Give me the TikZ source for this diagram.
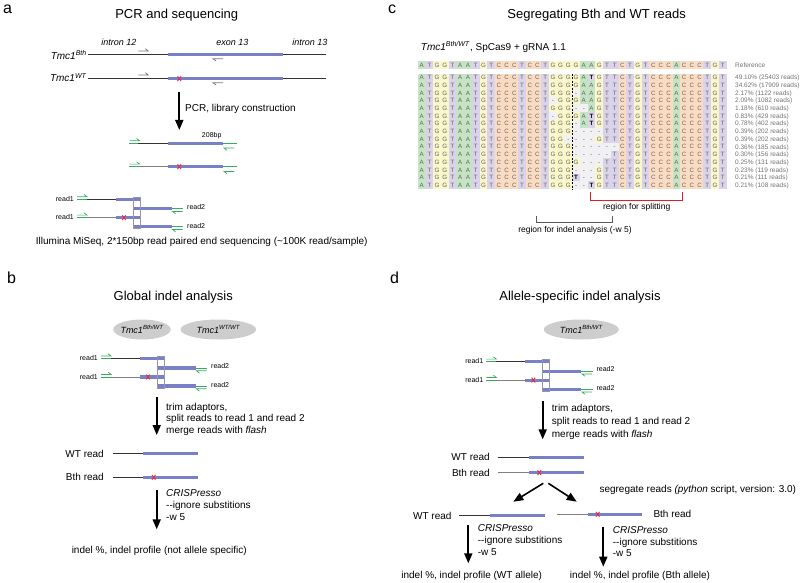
\documentclass[tikz,border=0pt]{standalone}
\usepackage{fontspec}
\setmainfont{Liberation Sans}
\usetikzlibrary{arrows.meta,shapes.geometric}
\definecolor{bluebar}{RGB}{122,128,200}
\definecolor{grn}{RGB}{55,170,100}
\definecolor{redx}{RGB}{235,40,55}
\definecolor{ellgray}{RGB}{205,205,205}
\definecolor{primgray}{RGB}{120,120,120}
\definecolor{nA}{RGB}{196,228,196}
\definecolor{nT}{RGB}{218,211,234}
\definecolor{nG}{RGB}{250,247,202}
\definecolor{nC}{RGB}{251,220,195}
\definecolor{nD}{RGB}{241,241,243}
\definecolor{alntext}{RGB}{100,100,100}
\definecolor{bracketred}{RGB}{225,30,40}
\definecolor{bracketgray}{RGB}{90,90,90}
\definecolor{boxgray}{RGB}{150,150,165}

\tikzset{
  txt/.style={inner sep=0pt, font=\fontsize{10}{12}\selectfont},
  smalltxt/.style={inner sep=0pt, font=\fontsize{7}{8}\selectfont},
  midtxt/.style={inner sep=0pt, font=\fontsize{8.5}{10}\selectfont},
  ttl/.style={inner sep=0pt, font=\fontsize{13}{15}\selectfont},
  plet/.style={inner sep=0pt, font=\fontsize{16}{18}\selectfont},
  gen/.style={inner sep=0pt, font=\fontsize{9}{11}\selectfont\itshape},
  kline/.style={draw=black!80, line width=0.8pt},
  gline/.style={draw=black!50, line width=0.8pt},
  bbar/.style={draw=bluebar, line width=3.2pt},
  gadp/.style={draw=grn, line width=0.9pt},
  bigarrow/.style={draw=black, line width=1.8pt, -{Triangle[length=10pt,width=8pt]}},
  ellip/.style={ellipse, fill=ellgray, minimum height=20pt, inner sep=0pt},
  alnletter/.style={inner sep=0pt, anchor=base, text=alntext, font=\fontsize{6.2}{6.2}\selectfont},
  pctlab/.style={inner sep=0pt, anchor=base west, text=black!55, font=\fontsize{6.5}{7}\selectfont},
  fwdh/.pic={\draw[line width=0.7pt, #1] (-5,0) -- (5,0) -- (2,-2.3);},
  revh/.pic={\draw[line width=0.7pt, #1] (5,0) -- (-5,0) -- (-2,2.3);},
  redcross/.pic={\draw[draw=redx, line width=0.9pt] (-1.8,-2.4) -- (1.8,2.4) (-1.8,2.4) -- (1.8,-2.4);},
}

\newcommand\tmc[1]{\textit{Tmc1}\textsuperscript{\textit{#1}}}

% alignment machinery
\newcount\alncol
\def\alnxo{421.7}\def\alndx{7.718}\def\alndy{7.7}
\long\def\alngobble#1{}
\long\def\alnfirst#1{#1}
\def\alnrow#1#2{\def\alny{#1}\global\alncol=0\relax\alnparse#2\relax}
\def\alnparse#1{\ifx#1\relax\expandafter\alngobble\else\expandafter\alnfirst\fi{\alncell#1\alnparse}}
\def\alncell#1{%
  \global\advance\alncol by 1\relax
  \def\cellfill{nC}\def\celltxt{#1}\def\cellfont{}%
  \if#1A\def\cellfill{nA}\fi
  \if#1T\def\cellfill{nT}\fi
  \if#1G\def\cellfill{nG}\fi
  \if#1-\def\cellfill{nD}\fi
  \if#1t\def\cellfill{nT}\def\celltxt{T}\def\cellfont{\bfseries\color{black}}\fi
  \pgfmathsetmacro\cellx{\alnxo+(\the\alncol-1)*\alndx}%
  \fill[\cellfill] (\cellx-\alndx/2,\alny-\alndy/2) rectangle ++(\alndx,\alndy);
  \node[alnletter] at (\cellx,\alny+2.2) {\cellfont\celltxt};%
}

% paired reads block
\newcommand\drawpairs[3]{%
\begin{scope}[shift={(#2,#3)}]
  \node[smalltxt, anchor=base east] (#1r1a) at (74,201.3) {read1};
  \draw[gadp] (77,199.3) -- (87,199.3);
  \pic at (82,196.7) {fwdh=grn};
  \draw[kline] (87,199.3) -- (116,199.3);
  \draw[bbar] (116,199.3) -- (140,199.3);
  \draw[bbar] (133.3,208.7) -- (171.7,208.7);
  \draw[gadp] (171.7,208.7) -- (183.3,208.7);
  \pic at (177.5,211.5) {revh=grn};
  \node[smalltxt, anchor=base west] (#1r2a) at (187,209.2) {read2};
  \node[smalltxt, anchor=base east] (#1r1b) at (74,219.7) {read1};
  \draw[gadp] (77,217.7) -- (87,217.7);
  \pic at (82,215.1) {fwdh=grn};
  \draw[gline] (87,217.7) -- (116,217.7);
  \draw[bbar] (116,217.7) -- (140,217.7);
  \pic at (124,217.7) {redcross};
  \draw[bbar] (133.3,226.7) -- (171.7,226.7);
  \draw[gadp] (171.7,226.7) -- (183.3,226.7);
  \pic at (177.5,229.5) {revh=grn};
  \node[smalltxt, anchor=base west] (#1r2b) at (187,228.2) {read2};
  \draw[boxgray, line width=0.6pt] (133.3,197.3) rectangle (140,228.5);
\end{scope}}

\begin{document}
\begin{tikzpicture}[x=1pt,y=-1pt]
\useasboundingbox (0,0) rectangle (800,583);

% ---------------- panel letters
\node[plet, anchor=base west] (la) at (3,13.3) {a};
\node[plet, anchor=base west] (lc) at (388,13.3) {c};
\node[plet, anchor=base west] (lb) at (7,283.5) {b};
\node[plet, anchor=base west] (ld) at (390,283.5) {d};

% ---------------- panel a
\node[ttl, anchor=base] (ta) at (176.7,18.5) {PCR and sequencing};
\node[gen, anchor=base] (i12) at (119,45.9) {intron 12};
\node[gen, anchor=base] (e13) at (232.5,45.9) {exon 13};
\node[gen, anchor=base] (i13) at (310,45.9) {intron 13};

\node[txt, anchor=base east] (bthlab) at (87,59.3) {\tmc{Bth}};
\draw[kline] (88,54.7) -- (326,54.7);
\draw[bbar] (168.3,54.7) -- (283.3,54.7);
\pic at (143.3,51) {fwdh=primgray};
\pic at (218,58.7) {revh=primgray};

\node[txt, anchor=base east] (wtlab) at (87,82) {\tmc{WT}};
\draw[kline] (88,78.7) -- (326,78.7);
\draw[bbar] (168.3,78.7) -- (283.3,78.7);
\pic at (179.3,78.7) {redcross};
\pic at (143.3,75) {fwdh=primgray};
\pic at (218,82.7) {revh=primgray};

\coordinate (a1s) at (179.3,91.7);
\coordinate (a1e) at (179.3,130);
\draw[bigarrow] (a1s) -- (a1e);
\node[txt, anchor=base west] (pcrlab) at (185,111.3) {PCR, library construction};

\node[smalltxt, anchor=base] (bp) at (211.7,138) {208bp};
\draw[gadp] (129.3,143.3) -- (138,143.3);
\draw[kline] (138,143.3) -- (168.3,143.3);
\draw[bbar] (168.3,143.3) -- (223.3,143.3);
\draw[gadp] (223.3,143.3) -- (236.7,143.3);
\pic at (134.5,140.7) {fwdh=grn};
\pic at (229,148) {revh=grn};
\draw[gadp] (129.3,166.7) -- (138,166.7);
\draw[gline] (138,166.7) -- (168.3,166.7);
\draw[bbar] (168.3,166.7) -- (223.3,166.7);
\draw[gadp] (223.3,166.7) -- (236.7,166.7);
\pic at (134.5,164.1) {fwdh=grn};
\pic at (229,171.4) {revh=grn};
\pic at (179.3,166.7) {redcross};

\drawpairs{pa}{0}{0}
\node[txt, anchor=base] (illum) at (201.7,244) {Illumina MiSeq, 2*150bp read paired end sequencing (\textasciitilde100K read/sample)};

% ---------------- panel c
\node[ttl, anchor=base] (tc) at (596.7,18.5) {Segregating Bth and WT reads};
\node[txt, anchor=base west] (sub) at (420.7,50.5) {\tmc{Bth/WT}, SpCas9 + gRNA 1.1};

\alnrow{65}{ATGGTAATGTCCCTCCTGGGGAAGTTCTGTCCCACCCTGT}
\node[pctlab] (refl) at (735,67.3) {Reference};

\def\rs{77.5}\def\rd{7.7}
\alnrow{77.5}{ATGGTAATGTCCCTCCTGGGGAtGTTCTGTCCCACCCTGT}
\alnrow{85.2}{ATGGTAATGTCCCTCCTGGGGAAGTTCTGTCCCACCCTGT}
\alnrow{92.9}{ATGGTAATGTCCCTCCTGGG-AAGTTCTGTCCCACCCTGT}
\alnrow{100.6}{ATGGTAATGTCCCTCCT-GGGAAGTTCTGTCCCACCCTGT}
\alnrow{108.3}{ATGGTAATGTCCCTCCTGGG--AGTTCTGTCCCACCCTGT}
\alnrow{116.0}{ATGGTAATGTCCCTCCT-GGGAtGTTCTGTCCCACCCTGT}
\alnrow{123.7}{ATGGTAATGTCCCTCCTGGG-AtGTTCTGTCCCACCCTGT}
\alnrow{131.4}{ATGGTAATGTCCCTCCTGGG----TTCTGTCCCACCCTGT}
\alnrow{139.1}{ATGGTAATGTCCCTCCTGG----GTTCTGTCCCACCCTGT}
\alnrow{146.8}{ATGGTAATGTCCCTCCTGGG------CTGTCCCACCCTGT}
\alnrow{154.5}{ATGGTAATGTCCCTCCTGGG-----TCTGTCCCACCCTGT}
\alnrow{162.2}{ATGGTAATGTCCCTCCTGGGG---TTCTGTCCCACCCTGT}
\alnrow{169.9}{ATGGTAATGTCCCTCCTGGG---GTTCTGTCCCACCCTGT}
\alnrow{177.6}{ATGGTAATGTCCCTCCTGGGt--GTTCTGTCCCACCCTGT}
\alnrow{185.3}{ATGGTAATGTCCCTCCTGGG--tGTTCTGTCCCACCCTGT}

\foreach \lab [count=\i] in {49.10\% (25403 reads),34.62\% (17909 reads),2.17\% (1122 reads),2.09\% (1082 reads),1.18\% (610 reads),0.83\% (429 reads),0.78\% (402 reads),0.39\% (202 reads),0.39\% (202 reads),0.36\% (185 reads),0.30\% (156 reads),0.25\% (131 reads),0.23\% (119 reads),0.21\% (111 reads),0.21\% (108 reads)}
  \node[pctlab] (pct\i) at (735,{\rs+(\i-1)*\rd+2.3}) {\lab};

\coordinate (cut1) at (572.2,73.6);
\coordinate (cut2) at (572.2,189.2);
\draw[black, line width=0.8pt, dash pattern=on 2pt off 1.5pt] (cut1) -- (cut2);

\coordinate (rs1) at (590.7,191.7);
\coordinate (rs2) at (590.7,200.7);
\coordinate (rs3) at (682.7,200.7);
\coordinate (rs4) at (682.7,191.7);
\draw[bracketred, line width=1.2pt] (rs1) -- (rs2) -- (rs3) -- (rs4);
\node[midtxt, anchor=base] (split) at (636.7,209) {region for splitting};

\coordinate (ri1) at (536.7,215.7);
\coordinate (ri2) at (536.7,222.3);
\coordinate (ri3) at (612.7,222.3);
\coordinate (ri4) at (612.7,215.7);
\draw[bracketgray, line width=1pt] (ri1) -- (ri2) -- (ri3) -- (ri4);
\node[midtxt, anchor=base] (indelr) at (575,232) {region for indel analysis (-w 5)};

% ---------------- panel b
\node[ttl, anchor=base] (tb) at (173.3,300) {Global indel analysis};
\node[ellip, minimum width=57.5pt] (eb1) at (142,329.5) {};
\node[gen, anchor=base] (eb1t) at (142,333) {\tmc{Bth/WT}};
\node[ellip, minimum width=75.5pt] (eb2) at (218.3,329.5) {};
\node[gen, anchor=base] (eb2t) at (218.3,333) {\tmc{WT/WT}};

\drawpairs{pb}{24}{159.3}

\coordinate (b1s) at (156.7,397.3);
\coordinate (b1e) at (156.7,435);
\draw[bigarrow] (b1s) -- (b1e);
\node[txt, anchor=base west] (bt1) at (166,410.5) {trim adaptors,};
\node[txt, anchor=base west] (bt2) at (166,421.8) {split reads to read 1 and read 2};
\node[txt, anchor=base west] (bt3) at (166,433.1) {merge reads with \textit{flash}};

\node[txt, anchor=base east] (bwt) at (104,457.3) {WT read};
\draw[kline] (112.7,453.3) -- (143.3,453.3);
\draw[bbar] (143.3,453.3) -- (198.3,453.3);
\node[txt, anchor=base east] (bbth) at (104,480.7) {Bth read};
\draw[kline] (112.7,477.3) -- (143.3,477.3);
\draw[bbar] (143.3,477.3) -- (198.3,477.3);
\pic at (153.7,477.3) {redcross};

\coordinate (b2s) at (156.7,490);
\coordinate (b2e) at (156.7,529.3);
\draw[bigarrow] (b2s) -- (b2e);
\node[txt, anchor=base west] (bc1) at (166,496.7) {\textit{CRISPresso}};
\node[txt, anchor=base west] (bc2) at (166,508.5) {-{}-ignore substitions};
\node[txt, anchor=base west] (bc3) at (166,520.5) {-w 5};
\node[txt, anchor=base] (bres) at (159.3,553.2) {indel \%, indel profile (not allele specific)};

% ---------------- panel d
\node[ttl, anchor=base] (td) at (580,300) {Allele-specific indel analysis};
\node[ellip, minimum width=75pt] (ed) at (581.3,329.5) {};
\node[gen, anchor=base] (edt) at (581.3,333) {\tmc{Bth/WT}};

\drawpairs{pd}{409.4}{162.4}

\coordinate (d1s) at (542.7,400.7);
\coordinate (d1e) at (542.7,439.3);
\draw[bigarrow] (d1s) -- (d1e);
\node[txt, anchor=base west] (dt1) at (551.7,411.5) {trim adaptors,};
\node[txt, anchor=base west] (dt2) at (551.7,424.4) {split reads to read 1 and read 2};
\node[txt, anchor=base west] (dt3) at (551.7,437.3) {merge reads with \textit{flash}};

\node[txt, anchor=base east] (dwt) at (490,460.7) {WT read};
\draw[kline] (497.7,457.3) -- (529.3,457.3);
\draw[bbar] (529.3,457.3) -- (584,457.3);
\node[txt, anchor=base east] (dbth) at (490,476.5) {Bth read};
\draw[gline] (497.7,472.7) -- (529.3,472.7);
\draw[bbar] (529.3,472.7) -- (584,472.7);
\pic at (539.3,472.7) {redcross};

\coordinate (dl1) at (543.3,483.3);
\coordinate (dl2) at (513.3,501.7);
\coordinate (dr1) at (548.3,483.3);
\coordinate (dr2) at (576.7,501.7);
\draw[bigarrow, line width=1.6pt] (dl1) -- (dl2);
\draw[bigarrow, line width=1.6pt] (dr1) -- (dr2);
\node[txt, anchor=base west] (seg) at (599.3,492.9) {segregate reads \textit{(python} script, version: 3.0)};

\node[txt, anchor=base east] (dwt2) at (451.7,519) {WT read};
\draw[kline] (459.3,515.3) -- (490,515.3);
\draw[bbar] (490,515.3) -- (545,515.3);
\draw[gline] (556.7,514.3) -- (588.3,514.3);
\draw[bbar] (588.3,514.3) -- (642.3,514.3);
\pic at (597.7,514.3) {redcross};
\node[txt, anchor=base west] (dbth2) at (653.3,517) {Bth read};

\coordinate (dl3) at (468.3,525);
\coordinate (dl4) at (468.3,563.3);
\draw[bigarrow] (dl3) -- (dl4);
\node[txt, anchor=base west] (dlc1) at (477.7,531.5) {\textit{CRISPresso}};
\node[txt, anchor=base west] (dlc2) at (477.7,543.3) {-{}-ignore substitions};
\node[txt, anchor=base west] (dlc3) at (477.7,555) {-w 5};

\coordinate (dr3) at (603.3,526.7);
\coordinate (dr4) at (603.3,566.7);
\draw[bigarrow] (dr3) -- (dr4);
\node[txt, anchor=base west] (drc1) at (612.7,533.3) {\textit{CRISPresso}};
\node[txt, anchor=base west] (drc2) at (612.7,545) {-{}-ignore substitions};
\node[txt, anchor=base west] (drc3) at (612.7,556.7) {-w 5};

\node[txt, anchor=base] (dres1) at (471.7,578.9) {indel \%, indel profile (WT allele)};
\node[txt, anchor=base] (dres2) at (640,578.9) {indel \%, indel profile (Bth allele)};
\end{tikzpicture}
\end{document}
